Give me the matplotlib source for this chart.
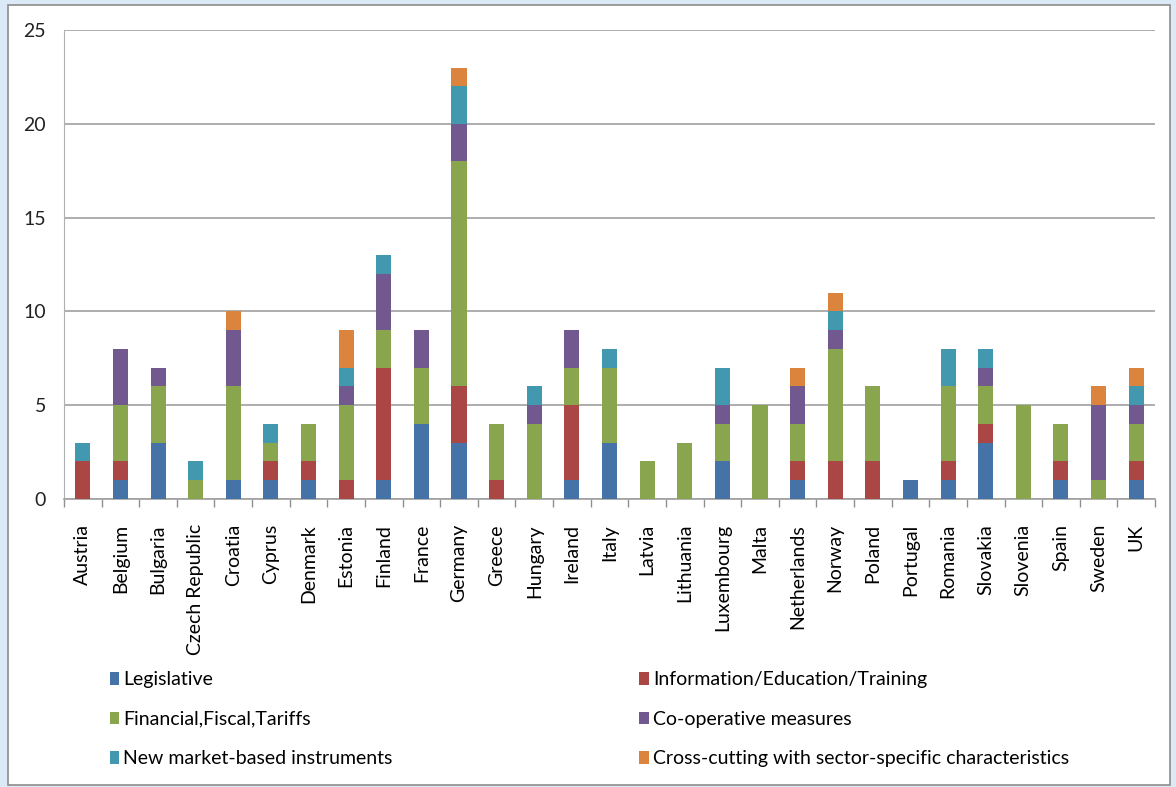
import matplotlib.pyplot as plt
import numpy as np
from matplotlib.patches import Rectangle

plt.rcParams['font.family'] = ['Lato', 'DejaVu Sans']

countries = ['Austria', 'Belgium', 'Bulgaria', 'Czech Republic', 'Croatia', 'Cyprus',
             'Denmark', 'Estonia', 'Finland', 'France', 'Germany', 'Greece', 'Hungary',
             'Ireland', 'Italy', 'Latvia', 'Lithuania', 'Luxembourg', 'Malta',
             'Netherlands', 'Norway', 'Poland', 'Portugal', 'Romania', 'Slovakia',
             'Slovenia', 'Spain', 'Sweden', 'UK']

legislative = [0, 1, 3, 0, 1, 1, 1, 0, 1, 4, 3, 0, 0, 1, 3, 0, 0, 2, 0, 1, 0, 0, 1, 1, 3, 0, 1, 0, 1]
information = [2, 1, 0, 0, 0, 1, 1, 1, 6, 0, 3, 1, 0, 4, 0, 0, 0, 0, 0, 1, 2, 2, 0, 1, 1, 0, 1, 0, 1]
financial   = [0, 3, 3, 1, 5, 1, 2, 4, 2, 3, 12, 3, 4, 2, 4, 2, 3, 2, 5, 2, 6, 4, 0, 4, 2, 5, 2, 1, 2]
cooperative = [0, 3, 1, 0, 3, 0, 0, 1, 3, 2, 2, 0, 1, 2, 0, 0, 0, 1, 0, 2, 1, 0, 0, 0, 1, 0, 0, 4, 1]
new_market  = [1, 0, 0, 1, 0, 1, 0, 1, 1, 0, 2, 0, 1, 0, 1, 0, 0, 2, 0, 0, 1, 0, 0, 2, 1, 0, 0, 0, 1]
cross       = [0, 0, 0, 0, 1, 0, 0, 2, 0, 0, 1, 0, 0, 0, 0, 0, 0, 0, 0, 1, 1, 0, 0, 0, 0, 0, 0, 1, 1]

series = [
    ('Legislative', legislative, '#4572A7'),
    ('Information/Education/Training', information, '#AA4643'),
    ('Financial,Fiscal,Tariffs', financial, '#89A54E'),
    ('Co-operative measures', cooperative, '#71588F'),
    ('New market-based instruments', new_market, '#4198AF'),
    ('Cross-cutting with sector-specific characteristics', cross, '#DB843D'),
]

fig = plt.figure(figsize=(11.76, 7.87), dpi=100)
fig.patch.set_facecolor('#DCE9F6')
fig.patches.append(Rectangle((8 / 1176, 2 / 787), 1162 / 1176, 780 / 787,
                             transform=fig.transFigure, facecolor='white',
                             edgecolor='#8C8C8C', linewidth=1.2, zorder=-10))

ax = fig.add_axes([64 / 1176, 288 / 787, 1091 / 1176, 469 / 787])
ax.set_facecolor('none')

x = np.arange(len(countries))
bottom = np.zeros(len(countries))
handles = []
for name, vals, col in series:
    vals = np.array(vals)
    b = ax.bar(x, vals, 0.4, bottom=bottom, color=col, label=name, zorder=3)
    handles.append(b)
    bottom += vals

ax.set_xlim(-0.5, len(countries) - 0.5)
ax.set_ylim(0, 25)
ax.set_yticks([0, 5, 10, 15, 20, 25])
ax.yaxis.grid(True, color='#A0A0A0', linewidth=1.2, zorder=0)
ax.tick_params(axis='y', length=0, labelsize=14, pad=13, colors='#222222')

ax.set_xticks(x)
ax.set_xticklabels(countries, rotation=90, fontsize=14)
ax.tick_params(axis='x', length=0, pad=18)
ax.set_xticks(np.arange(-0.5, len(countries)), minor=True)
ax.tick_params(axis='x', which='minor', length=6, color='#909090', width=1)

for s in ['top', 'right']:
    ax.spines[s].set_visible(False)
ax.spines['left'].set_color('#B0B0B0')
ax.spines['bottom'].set_color('#A0A0A0')
ax.spines['bottom'].set_linewidth(1.2)

# legend fills column by column, so reorder to read row-wise
order = [0, 2, 4, 1, 3, 5]
fig.legend(handles=[handles[i] for i in order], loc='upper left',
           bbox_to_anchor=(92 / 1176, 1 - 654 / 787),
           ncol=2, frameon=False, fontsize=14, handlelength=0.5, handleheight=0.6,
           handletextpad=0.2, columnspacing=12.7, labelspacing=1.15)

plt.savefig('out.png', dpi=100, facecolor=fig.get_facecolor())
